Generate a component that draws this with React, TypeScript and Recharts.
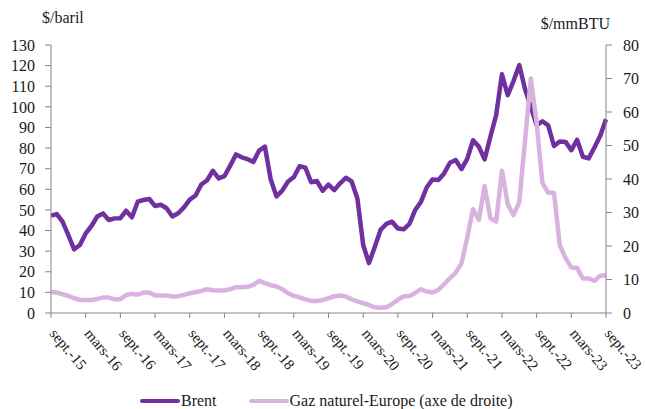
import React from 'react';
import { LineChart, Line, XAxis, YAxis, Legend, Label } from 'recharts';

const FONT = '"Liberation Serif", "DejaVu Serif", serif';
const BRENT_COLOR = '#7030A0';
const GAZ_COLOR = '#D9B3DF';
const AXIS_COLOR = '#868686';
const TEXT_COLOR = '#1a1a1a';

const MOIS = ['janv.', 'févr.', 'mars', 'avr.', 'mai', 'juin', 'juil.', 'août', 'sept.', 'oct.', 'nov.', 'déc.'];

// mois de sept.-15 à sept.-23
const mois: string[] = [];
for (let i = 0; i < 97; i++) {
  mois.push(`${MOIS[(8 + i) % 12]}-${15 + Math.floor((8 + i) / 12)}`);
}

// Brent, $/baril
const brent = [
  47.2, 48.0, 44.3, 37.8,
  30.9, 33.0, 38.6, 42.2, 46.8, 48.3, 45.1, 45.9, 46.0, 49.6, 46.4, 54.0,
  54.8, 55.3, 51.9, 52.5, 50.8, 46.8, 48.4, 51.2, 55.0, 57.0, 62.3, 64.4,
  69.0, 65.3, 66.4, 71.5, 76.9, 75.5, 74.6, 73.3, 78.8, 80.7, 64.8, 56.6,
  59.4, 63.8, 65.9, 71.2, 70.5, 63.4, 64.0, 59.3, 62.3, 59.6, 62.9, 65.6,
  63.8, 55.5, 33.0, 24.2, 32.0, 40.3, 43.2, 44.3, 41.0, 40.6, 43.2, 50.0,
  54.0, 61.0, 64.8, 64.5, 67.7, 72.9, 74.2, 69.8, 74.8, 83.8, 80.7, 74.5,
  85.5, 96.0, 115.8, 105.7, 112.5, 120.3, 108.5, 100.0, 91.0, 93.0, 91.0, 81.0,
  83.2, 83.0, 79.0, 84.0, 75.8, 75.0, 80.3, 86.0, 94.0,
];

// Gaz naturel Europe, $/mmBTU (axe de droite)
const gaz = [
  6.3, 6.1, 5.6, 5.1,
  4.4, 3.9, 3.9, 3.9, 4.2, 4.6, 4.6, 4.1, 4.1, 5.4, 5.7, 5.5,
  6.1, 6.1, 5.2, 5.2, 5.2, 4.9, 5.0, 5.4, 5.9, 6.2, 6.6, 7.1,
  6.8, 6.7, 6.7, 7.1, 7.7, 7.7, 7.8, 8.4, 9.6, 8.9, 8.3, 7.9,
  7.1, 5.9, 5.1, 4.7, 4.1, 3.6, 3.6, 3.9, 4.4, 5.0, 5.2, 4.9,
  4.1, 3.5, 2.9, 2.4, 1.7, 1.6, 1.7, 2.7, 3.9, 5.0, 5.1, 6.0,
  7.1, 6.4, 6.1, 6.9, 8.6, 10.4, 12.0, 14.8, 22.5, 31.0, 27.8, 37.9,
  28.3, 27.3, 42.5, 32.5, 29.2, 33.2, 51.6, 70.0, 56.7, 38.8, 35.9, 35.9,
  20.3, 16.4, 13.6, 13.4, 10.3, 10.3, 9.6, 11.1, 11.3,
];

const ticksGauche = [0, 10, 20, 30, 40, 50, 60, 70, 80, 90, 100, 110, 120, 130];
const ticksDroite = [0, 10, 20, 30, 40, 50, 60, 70, 80];

const data = mois.map((m, i) => ({ mois: m, brent: brent[i], gaz: gaz[i] }));

const tickStyle = { fill: TEXT_COLOR, fontSize: 16, fontFamily: FONT };

const MoisTick = ({ x, y, payload }: any) => (
  <text
    x={0}
    y={0}
    transform={`translate(${x - 2},${y + 16}) rotate(50)`}
    textAnchor="start"
    fill={TEXT_COLOR}
    fontSize={15}
    fontFamily={FONT}
  >
    {payload.value}
  </text>
);

const Legende = () => (
  <div
    style={{
      display: 'flex',
      alignItems: 'center',
      paddingLeft: 140,
      height: 17,
      lineHeight: '17px',
      fontFamily: FONT,
      fontSize: 16,
      color: TEXT_COLOR,
    }}
  >
    <span style={{ width: 40, height: 4, background: BRENT_COLOR, borderRadius: 2 }} />
    <span style={{ marginLeft: 1 }}>Brent</span>
    <span style={{ width: 40, height: 4, background: GAZ_COLOR, borderRadius: 2, marginLeft: 32 }} />
    <span style={{ marginLeft: 1 }}>Gaz naturel-Europe (axe de droite)</span>
  </div>
);

export default function App() {
  return (
    <div style={{ position: 'absolute', left: 0, top: 0 }}>
      <LineChart width={645} height={409} data={data} margin={{ top: 45, right: 0, bottom: 0, left: 0 }}>
        <XAxis
          dataKey="mois"
          interval={5}
          height={79}
          tickSize={5}
          tickMargin={0}
          tick={<MoisTick />}
          axisLine={{ stroke: AXIS_COLOR }}
          tickLine={{ stroke: AXIS_COLOR }}
        />
        <YAxis
          yAxisId="left"
          domain={[0, 130]}
          ticks={ticksGauche}
          interval={0}
          width={51}
          tickSize={6}
          tickMargin={10}
          tick={tickStyle}
          axisLine={{ stroke: AXIS_COLOR }}
          tickLine={{ stroke: AXIS_COLOR }}
        >
          <Label
            content={({ viewBox }: any) => (
              <text x={viewBox.x + 42} y={viewBox.y - 22} fill={TEXT_COLOR} fontSize={16} fontFamily={FONT}>
                $/baril
              </text>
            )}
          />
        </YAxis>
        <YAxis
          yAxisId="right"
          orientation="right"
          domain={[0, 80]}
          ticks={ticksDroite}
          interval={0}
          width={39}
          tickSize={6}
          tickMargin={11}
          tick={tickStyle}
          axisLine={{ stroke: AXIS_COLOR }}
          tickLine={{ stroke: AXIS_COLOR }}
        >
          <Label
            content={({ viewBox }: any) => (
              <text x={viewBox.x + 4} y={viewBox.y - 16} textAnchor="end" fill={TEXT_COLOR} fontSize={16} fontFamily={FONT}>
                $/mmBTU
              </text>
            )}
          />
        </YAxis>
        <Legend verticalAlign="bottom" wrapperStyle={{ left: 0, bottom: 0, width: 645 }} content={<Legende />} />
        <Line
          yAxisId="left"
          type="linear"
          dataKey="brent"
          name="Brent"
          stroke={BRENT_COLOR}
          strokeWidth={4.5}
          strokeLinejoin="round"
          dot={false}
          isAnimationActive={false}
        />
        <Line
          yAxisId="right"
          type="linear"
          dataKey="gaz"
          name="Gaz naturel-Europe (axe de droite)"
          stroke={GAZ_COLOR}
          strokeWidth={4.5}
          strokeLinejoin="round"
          dot={false}
          isAnimationActive={false}
        />
      </LineChart>
    </div>
  );
}
